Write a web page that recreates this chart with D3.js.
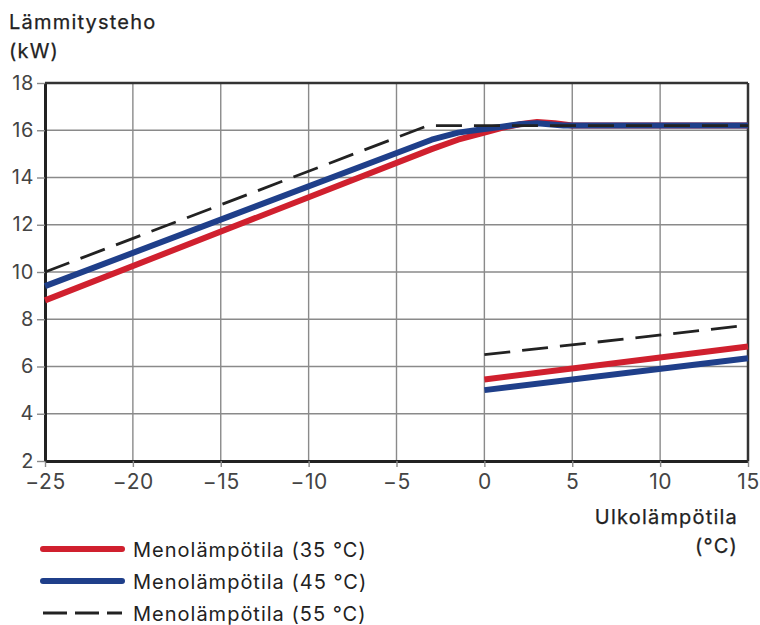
<!DOCTYPE html>
<html><head><meta charset="utf-8">
<script src="https://cdn.jsdelivr.net/npm/d3@7"></script>
<style>body{margin:0;background:#fff}svg{display:block}text{font-family:Inter,"Noto Sans",sans-serif}</style>
</head><body>
<svg id="c" width="760" height="625"></svg>
<script>
const xTicks = [-25,-20,-15,-10,-5,0,5,10,15];
const yTicks = [2,4,6,8,10,12,14,16,18];
const red35 = [[-25,8.8],[-3,15.2],[-1.5,15.6],[0,15.9],[1,16.1],[2,16.25],[3,16.35],[4,16.3],[5,16.2],[15,16.2]];
const blue45 = [[-25,9.4],[-3,15.6],[-1.5,15.9],[0,16.05],[1,16.15],[2,16.25],[3,16.3],[4.5,16.2],[15,16.2]];
const dash55 = [[-25,10.0],[-3.2,16.2],[15,16.2]];
const red35b = [[0,5.45],[15,6.85]];
const blue45b = [[0,5.0],[15,6.35]];
const dash55b = [[0,6.5],[15,7.75]];
const legendLabels = ["Menolämpötila (35 °C)","Menolämpötila (45 °C)","Menolämpötila (55 °C)"];
const colors = {red:"#d0202e", blue:"#1f3f8a", dash:"#222"};

const svg = d3.select("#c");
const x = d3.scaleLinear().domain([-25,15]).range([45,748]);
const y = d3.scaleLinear().domain([2,18]).range([461,83]);

// grid
svg.append("g").selectAll("line").data(xTicks).join("line")
  .attr("x1",d=>x(d)).attr("x2",d=>x(d)).attr("y1",y(18)).attr("y2",y(2))
  .attr("stroke","#8a8a8a").attr("stroke-width",1.4);
svg.append("g").selectAll("line").data(yTicks).join("line")
  .attr("x1",x(-25)).attr("x2",x(15)).attr("y1",d=>y(d)).attr("y2",d=>y(d))
  .attr("stroke","#8a8a8a").attr("stroke-width",1.4);

const tickFont = (g,fs) => g.selectAll(".tick text").attr("fill","#444")
  .style("font-size",fs).style("letter-spacing","0.6px").style("font-family","Inter, 'Noto Sans', sans-serif");
// axes
const xa = svg.append("g").attr("transform",`translate(0,${y(2)})`)
  .call(d3.axisBottom(x).tickValues(xTicks).tickSize(6).tickSizeOuter(0).tickFormat(d=>d<0?"\u2212"+(-d):d));
const ya = svg.append("g").attr("transform",`translate(${x(-25)},0)`)
  .call(d3.axisLeft(y).tickValues(yTicks).tickSize(8).tickSizeOuter(0));
[xa,ya].forEach(g=>{
  g.select(".domain").attr("stroke","#222").attr("stroke-width",3);
  g.selectAll(".tick line").attr("stroke","#8a8a8a").attr("stroke-width",1.4);
});
tickFont(xa,"21px");
tickFont(ya,"20px");
xa.selectAll(".tick text").attr("y",13).attr("dy","0.7em");
ya.selectAll(".tick text").attr("x",-11).attr("dy","0.3em");
// top and right frame
svg.append("line").attr("x1",x(-25)).attr("x2",x(15)).attr("y1",y(18)).attr("y2",y(18)).attr("stroke","#333").attr("stroke-width",2.5);
svg.append("line").attr("x1",x(15)).attr("x2",x(15)).attr("y1",y(18)).attr("y2",y(2)).attr("stroke","#333").attr("stroke-width",2.5);

const line = d3.line().x(d=>x(d[0])).y(d=>y(d[1]));
function draw(data,c,w,dash){
  svg.append("path").datum(data).attr("d",line).attr("fill","none")
    .attr("stroke",c).attr("stroke-width",w).attr("stroke-linejoin","round").attr("stroke-dasharray",dash||null);
}
draw(red35,colors.red,6);
draw(red35b,colors.red,6);
draw(blue45,colors.blue,6);
draw(blue45b,colors.blue,6);
draw(dash55,colors.dash,2.8,"26,12");
draw(dash55b,colors.dash,2.8,"26,12");

// titles
const lab = (t,xx,yy,anchor) => svg.append("text").attr("x",xx).attr("y",yy).attr("text-anchor",anchor||"start")
  .text(t).attr("fill","#222").attr("stroke","#222").attr("stroke-width",0.25)
  .style("font-size","20px").style("letter-spacing","1.2px");
lab("Lämmitysteho",9,29);
lab("(kW)",9,58);
lab("Ulkolämpötila",738,524,"end");
lab("(°C)",738,553,"end");

// legend
const lg = [{c:colors.red,w:6,d:null},{c:colors.blue,w:6,d:null},{c:colors.dash,w:3,d:"24,8"}];
lg.forEach((o,i)=>{
  const yy = 549 + i*32;
  svg.append("line").attr("x1",43).attr("x2",122).attr("y1",yy).attr("y2",yy)
    .attr("stroke",o.c).attr("stroke-width",o.w).attr("stroke-linecap",o.d?"butt":"round").attr("stroke-dasharray",o.d);
  svg.append("text").attr("x",133).attr("y",yy+8).text(legendLabels[i]).attr("fill","#222")
    .style("font-size","20px").style("letter-spacing","1px");
});
</script>
</body></html>
